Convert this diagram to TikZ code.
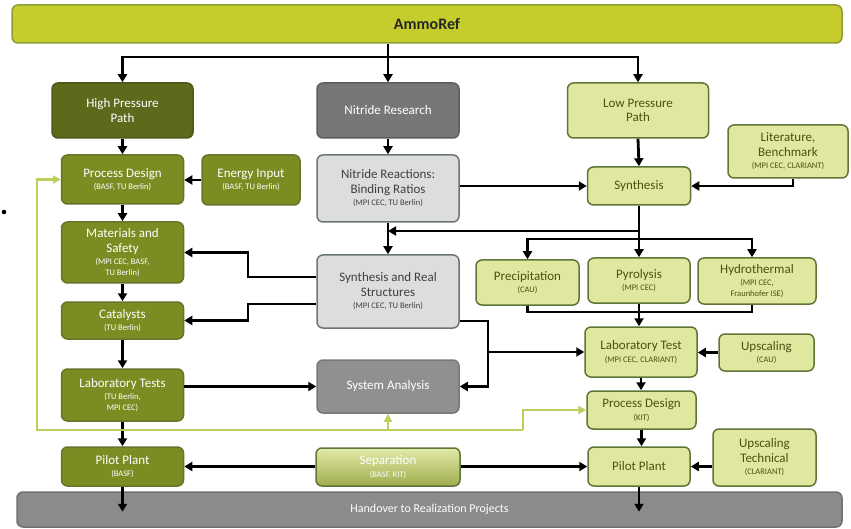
\documentclass[tikz,border=0pt]{standalone}
\usepackage{fontspec}
\setmainfont{Carlito}
\usetikzlibrary{arrows.meta}
\definecolor{limec}{HTML}{C4CD2B}
\definecolor{limeb}{HTML}{8E9C36}
\definecolor{dkolive}{HTML}{5B6A1B}
\definecolor{dkoliveb}{HTML}{4B5917}
\definecolor{olive}{HTML}{7D8C22}
\definecolor{oliveb}{HTML}{66752A}
\definecolor{lightg}{HTML}{DFE89E}
\definecolor{lightgb}{HTML}{5F7538}
\definecolor{lighttxt}{HTML}{4A5214}
\definecolor{grayd}{HTML}{767776}
\definecolor{graydb}{HTML}{5C5E5C}
\definecolor{grayl}{HTML}{DCDDDC}
\definecolor{graylb}{HTML}{6B786B}
\definecolor{graym}{HTML}{8F918F}
\definecolor{graymb}{HTML}{777977}
\definecolor{hoc}{HTML}{8A8C8A}
\definecolor{hob}{HTML}{6F716F}
\definecolor{loopc}{HTML}{B9D15A}
\newcommand\subt[1]{{\fontsize{8.5}{10}\selectfont #1}}
\begin{document}
\begin{tikzpicture}[x=1pt,y=-1pt,
  bx/.style={draw, rounded corners=6pt, line width=1.5pt, align=center, inner sep=2pt,
    font=\fontsize{13}{14.5}\selectfont},
  olv/.style={bx, fill=olive, draw=oliveb, text=white},
  lgt/.style={bx, fill=lightg, draw=lightgb, text=lighttxt},
  gry/.style={bx, fill=grayl, draw=graylb, text=black!75},
  arr/.style={line width=2.8pt, -{Triangle[length=8pt,width=9pt]}},
  ln/.style={line width=2.8pt},
  garr/.style={line width=2.2pt, draw=loopc, -{Triangle[length=8pt,width=8pt]}, loopc}
]
\useasboundingbox (0,0) rectangle (851,529);
\fill[white] (0,0) rectangle (851,529);

% top bar
\node[bx, fill=limec, draw=limeb, minimum width=830pt, minimum height=38pt,
  font=\bfseries\fontsize{16}{19}\selectfont, text=black!85] (ammo) at (427,24) {AmmoRef};

% paths
\node[bx, fill=dkolive, draw=dkoliveb, text=white, minimum width=141pt, minimum height=55pt] (hp) at (122.5,110.5) {High Pressure\\Path};
\node[bx, fill=grayd, draw=graydb, text=white, minimum width=142pt, minimum height=55pt] (nr) at (388,110.5) {Nitride Research};
\node[lgt, minimum width=141pt, minimum height=55pt] (lp) at (638,110.5) {Low Pressure\\Path};

% left column
\node[olv, minimum width=122pt, minimum height=49pt] (pd) at (122.5,179.5) {Process Design\\[-2pt]\subt{(BASF, TU Berlin)}};
\node[olv, minimum width=98pt, minimum height=50pt] (ei) at (251,180) {Energy Input\\[-2pt]\subt{(BASF, TU Berlin)}};
\node[olv, minimum width=122pt, minimum height=61pt] (ms) at (122.5,252.5) {Materials and\\Safety\\[-2pt]\subt{(MPI CEC, BASF,}\\[-4pt]\subt{TU Berlin)}};
\node[olv, minimum width=122pt, minimum height=37pt] (cat) at (122.5,320.5) {Catalysts\\[-2pt]\subt{(TU Berlin)}};
\node[olv, minimum width=122pt, minimum height=52pt] (labl) at (122.5,395) {Laboratory Tests\\[-2pt]\subt{(TU Berlin,}\\[-4pt]\subt{MPI CEC)}};
\node[olv, minimum width=122pt, minimum height=39pt] (ppl) at (122.5,466.5) {Pilot Plant\\[-2pt]\subt{(BASF)}};

% middle column
\node[gry, minimum width=142pt, minimum height=67pt] (nrx) at (388,188.5) {Nitride Reactions:\\Binding Ratios\\[-2pt]\subt{(MPI CEC, TU Berlin)}};
\node[gry, minimum width=142pt, minimum height=73pt] (sr) at (388,291.5) {Synthesis and Real\\Structures\\[-2pt]\subt{(MPI CEC, TU Berlin)}};
\node[bx, fill=graym, draw=graymb, text=white, minimum width=142pt, minimum height=53pt] (sa) at (388,386.5) {System Analysis};
\node[bx, top color=lightg!90!white, bottom color=olive!65!lightg, draw=lightgb, text=white, minimum width=144pt, minimum height=38pt] (sep) at (388,467) {Separation\\[-2pt]\subt{(BASF, KIT)}};

% right column
\node[lgt, minimum width=103pt, minimum height=38pt] (syn) at (639,186) {Synthesis};
\node[lgt, minimum width=120pt, minimum height=53pt] (lit) at (788,151.5) {Literature,\\Benchmark\\[-2pt]\subt{(MPI CEC, CLARIANT)}};
\node[lgt, minimum width=103pt, minimum height=45pt] (prec) at (527.5,282.5) {Precipitation\\[-2pt]\subt{(CAU)}};
\node[lgt, minimum width=102pt, minimum height=45pt] (pyr) at (639,280.5) {Pyrolysis\\[-2pt]\subt{(MPI CEC)}};
\node[lgt, minimum width=118pt, minimum height=46pt] (hyd) at (757,281) {Hydrothermal\\[-2pt]\subt{(MPI CEC,}\\[-4pt]\subt{Fraunhofer ISE)}};
\node[lgt, minimum width=112pt, minimum height=50pt] (labr) at (641,352) {Laboratory Test\\[-2pt]\subt{(MPI CEC, CLARIANT)}};
\node[lgt, minimum width=95pt, minimum height=37pt] (ups) at (766.5,352.5) {Upscaling\\[-2pt]\subt{(CAU)}};
\node[lgt, minimum width=109pt, minimum height=38pt] (pdr) at (641.5,410) {Process Design\\[-2pt]\subt{(KIT)}};
\node[lgt, minimum width=102pt, minimum height=39pt] (ppr) at (639,466.5) {Pilot Plant};
\node[lgt, minimum width=103pt, minimum height=57pt] (upt) at (764.5,457.5) {Upscaling\\Technical\\[-2pt]\subt{(CLARIANT)}};

% bottom bar
\node[bx, fill=hoc, draw=hob, text=white, minimum width=825pt, minimum height=35pt,
  font=\fontsize{12}{14}\selectfont] (ho) at (429.5,509.5) {Handover to Realization Projects};

% stray dot
\fill[black] (4,212) circle (2.3);

% top distribution
\coordinate (bar) at (0,57);
\draw[arr] (ammo.south -| nr) -- (nr.north);
\draw[arr] (nr |- bar) -| (hp.north);
\draw[arr] (nr |- bar) -| (lp.north);

% left column
\draw[arr] (hp.south) -- (pd.north);
\draw[arr] (ei.west) -- (pd.east |- ei.west);
\draw[arr] (pd.south) -- (ms.north);
\draw[arr] (ms.south) -- (cat.north);
\draw[arr] (cat.south) -- (labl.north);
\draw[arr] (labl.south) -- (ppl.north);
\draw[arr] (ppl.south) -- ++(0,25);

% middle column
\draw[arr] (nr.south) -- (nrx.north);
\draw[arr] (nrx.east |- syn.west) -- (syn.west);
\draw[arr] (nrx.south) -- (sr.north);
\draw[arr] (sr.west |- 0,277) -- (248,277) |- (ms.east);
\draw[arr] (sr.west |- 0,304) -- (248,304) |- (cat.east);
\draw[arr] (sr.east |- 0,321) -- (488,321) |- (sa.east);
\draw[arr] (488,352) -- (labr.west);
\draw[arr] (labl.east |- sa.west) -- (sa.west);
\draw[arr] (sep.west |- ppl.east) -- (ppl.east);
\draw[arr] (sep.east |- ppr.west) -- (ppr.west);

% right column
\draw[arr] (lp.south) -- (syn.north);
\draw[arr] ([xshift=5pt]lit.south) |- (syn.east);
\draw[arr] (syn.south) -- (syn.south |- 0,231) -- (nrx.south |- 0,231);
\draw[ln] (syn.south) -- (syn.south |- 0,239);
\draw[arr] (syn.south |- 0,239) -| (prec.north);
\draw[arr] (syn.south |- 0,239) -- (pyr.north);
\draw[arr] (syn.south |- 0,239) -| ([xshift=-5pt]hyd.north);
\draw[ln] (prec.south) |- (pyr.south |- 0,312) -| ([xshift=-5pt]hyd.south);
\draw[arr] (pyr.south) -- (pyr.south |- labr.north);
\draw[arr] (ups.west) -- (labr.east |- ups.west);
\draw[arr] (labr.south) -- (labr.south |- pdr.north);
\draw[arr] (pdr.south) -- (pdr.south |- ppr.north);
\draw[arr] (upt.west |- ppr.east) -- (ppr.east);
\draw[arr] (ppr.south) -- ++(0,25);

% green feedback loop
\draw[garr] (523,430) -- (37,430) |- (pd.west);
\draw[garr] (523,430) |- (pdr.west);
\draw[garr] (sa.south |- 0,430) -- (sa.south);
\end{tikzpicture}
\end{document}
